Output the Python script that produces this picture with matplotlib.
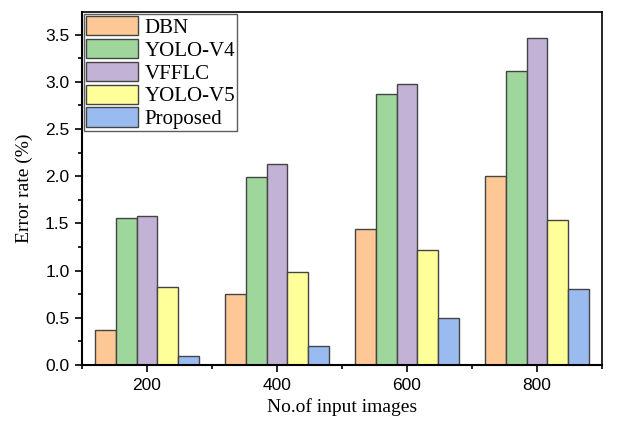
import matplotlib
matplotlib.use("Agg")
import matplotlib.pyplot as plt
import numpy as np
from matplotlib.ticker import MultipleLocator

# Error rate (%) for each method at each number of input images
input_images = [200, 400, 600, 800]
methods = ["DBN", "YOLO-V4", "VFFLC", "YOLO-V5", "Proposed"]
dbn = [0.37, 0.75, 1.44, 2.00]
yolo_v4 = [1.56, 1.99, 2.87, 3.12]
vfflc = [1.58, 2.13, 2.98, 3.46]
yolo_v5 = [0.83, 0.99, 1.22, 1.54]
proposed = [0.10, 0.20, 0.50, 0.80]
series = [dbn, yolo_v4, vfflc, yolo_v5, proposed]
colors = ["#FDC896", "#9ED69C", "#C2B2D6", "#FFFF99", "#9ABBF0"]

fig = plt.figure(figsize=(6.25, 4.21), dpi=100)
ax = fig.add_axes([82 / 625, 1 - 365 / 421, 520 / 625, 353 / 421])

bar_w = 32
x = np.array(input_images, dtype=float)
for i, (vals, name, c) in enumerate(zip(series, methods, colors)):
    offset = (i - 2) * bar_w
    ax.bar(x + offset, vals, width=bar_w, color=c, edgecolor="#444444",
           linewidth=1.0, label=name, zorder=2)

ax.set_xlim(100, 900)
ax.set_ylim(0, 3.74)
ax.set_xticks(input_images)
ax.xaxis.set_minor_locator(MultipleLocator(100))
ax.yaxis.set_major_locator(MultipleLocator(0.5))
ax.yaxis.set_minor_locator(MultipleLocator(0.25))
ax.yaxis.set_major_formatter(matplotlib.ticker.FormatStrFormatter("%.1f"))

ax.tick_params(axis="both", which="major", direction="out", length=5, width=1.2,
               labelsize=12.5, pad=4)
ax.tick_params(axis="both", which="minor", direction="out", length=3, width=1.2)
ax.tick_params(top=False, right=False, which="both")
for lbl in ax.get_xticklabels() + ax.get_yticklabels():
    lbl.set_fontfamily("Liberation Sans")

for side in ["left", "bottom"]:
    ax.spines[side].set_linewidth(1.5)
for side in ["top", "right"]:
    ax.spines[side].set_linewidth(1.2)

ax.set_xlabel("No.of input images", fontfamily="Liberation Serif", fontsize=14, labelpad=4)
ax.set_ylabel("Error rate (%)", fontfamily="Liberation Serif", fontsize=14, labelpad=9)

leg = ax.legend(loc="upper left", bbox_to_anchor=(0.0, 1.0), frameon=True, fancybox=False,
                edgecolor="#333333", prop={"family": "Liberation Serif", "size": 15},
                handlelength=2.5, handleheight=1.05, labelspacing=0.05,
                handletextpad=0.3, borderpad=0.1, borderaxespad=0.1)
leg.get_frame().set_linewidth(1.0)

fig.savefig("out.png", dpi=100)
